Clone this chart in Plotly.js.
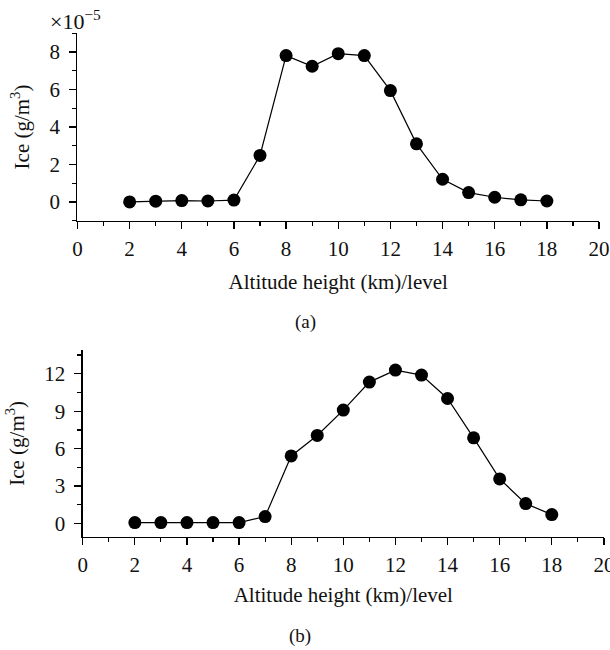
<!DOCTYPE html>
<html>
<head>
<meta charset="utf-8">
<script src="https://cdn.plot.ly/plotly-3.0.1.min.js"></script>
<style>html,body{margin:0;padding:0;background:#fff;}#chart{width:610px;height:650px;}</style>
</head>
<body>
<div id="chart"></div>
<script>
// Panel (a): altitude levels and ice content (x 10^-5 g/m^3)
const altitudeA = [2, 3, 4, 5, 6, 7, 8, 9, 10, 11, 12, 13, 14, 15, 16, 17, 18];
const iceA = [0.0, 0.04, 0.07, 0.05, 0.1, 2.48, 7.81, 7.24, 7.91, 7.81, 5.94, 3.10, 1.21, 0.50, 0.25, 0.11, 0.05];
// Panel (b): altitude levels and ice content (g/m^3)
const altitudeB = [2, 3, 4, 5, 6, 7, 8, 9, 10, 11, 12, 13, 14, 15, 16, 17, 18];
const iceB = [0.08, 0.08, 0.08, 0.08, 0.08, 0.56, 5.42, 7.06, 9.09, 11.33, 12.29, 11.89, 10.02, 6.87, 3.58, 1.60, 0.72];

const xTicks = [0, 2, 4, 6, 8, 10, 12, 14, 16, 18, 20];
const yTicksA = [0, 2, 4, 6, 8];
const yTicksB = [0, 3, 6, 9, 12];

const FONT = '"Liberation Serif", "Times New Roman", serif';

function tf() { return {family: FONT, size: 21, color: '#111'}; }

function trace(x, y, xa, ya) {
  return {
    x: x, y: y, xaxis: xa, yaxis: ya, type: 'scatter', mode: 'lines+markers',
    line: {color: '#000', width: 1.2},
    marker: {color: '#000', size: 13, symbol: 'circle'},
    showlegend: false, hoverinfo: 'skip'
  };
}

function xaxis(domain, anchor, standoff) {
  return {
    domain: domain, anchor: anchor, range: [0, 20], tickvals: xTicks,
    showgrid: false, zeroline: false, showline: true, linecolor: '#000', linewidth: 1.3,
    ticks: 'outside', ticklen: 7, tickwidth: 1.3, tickcolor: '#000',
    minor: {dtick: 1, tick0: 0, ticks: 'outside', ticklen: 4, tickwidth: 1.2, tickcolor: '#000'},
    tickfont: tf(), ticklabelstandoff: 2, ticklabeloverflow: 'allow',
    title: {text: 'Altitude height (km)/level', font: tf(), standoff: standoff}
  };
}
function yaxis(domain, anchor, range, tv, minorStep, standoff) {
  return {
    domain: domain, anchor: anchor, range: range, tickvals: tv,
    showgrid: false, zeroline: false, showline: true, linecolor: '#000', linewidth: 1.3,
    ticks: 'outside', ticklen: 7, tickwidth: 1.3, tickcolor: '#000',
    minor: {dtick: minorStep, tick0: 0, ticks: 'outside', ticklen: 4, tickwidth: 1.2, tickcolor: '#000'},
    tickfont: tf(), ticklabelstandoff: 5,
    title: {text: 'Ice (g/m<sup>3</sup>)', font: tf(), standoff: standoff}
  };
}

const data = [
  trace(altitudeA, iceA, 'x', 'y'),
  trace(altitudeB, iceB, 'x2', 'y2')
];

const layout = {
  width: 610, height: 650,
  margin: {l: 0, r: 0, t: 0, b: 0},
  paper_bgcolor: '#fff', plot_bgcolor: '#fff',
  showlegend: false,
  font: {family: FONT, size: 21, color: '#111'},
  xaxis: xaxis([0.127, 0.982], 'y', 14),
  yaxis: yaxis([0.6605, 0.9488], 'x', [-1, 9], yTicksA, 1, 14),
  xaxis2: xaxis([0.1356, 0.99], 'y2', 11),
  yaxis2: yaxis([0.1743, 0.4615], 'x2', [-1.05, 13.9], yTicksB, 1.5, 14),
  annotations: [
    {text: '×10<sup>−5</sup>', xref: 'paper', yref: 'paper', x: 48 / 610, y: 1 - 20 / 650,
     xanchor: 'left', yanchor: 'middle', showarrow: false, font: {family: FONT, size: 22, color: '#111'}},
    {text: '(a)', xref: 'paper', yref: 'paper', x: 305 / 610, y: 1 - 322 / 650,
     xanchor: 'center', yanchor: 'middle', showarrow: false, font: {family: FONT, size: 19, color: '#111'}},
    {text: '(b)', xref: 'paper', yref: 'paper', x: 300 / 610, y: 1 - 636 / 650,
     xanchor: 'center', yanchor: 'middle', showarrow: false, font: {family: FONT, size: 19, color: '#111'}}
  ]
};

Plotly.newPlot('chart', data, layout, {staticPlot: true, displayModeBar: false});
</script>
</body>
</html>
